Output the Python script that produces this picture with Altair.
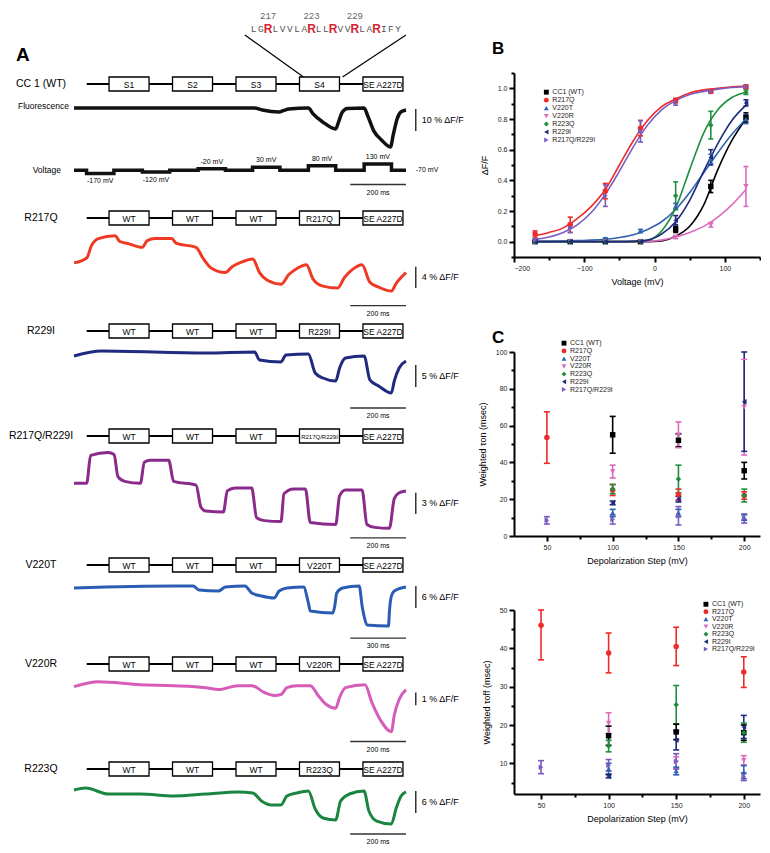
import altair as alt
import pandas as pd

FONT = "Liberation Sans"

# ======================= PANEL A DATA =======================
seq_letters = list("LGRLVVLARLLRVVRLARIFY")
seq_first_residue = 215
seq_numbered = [217, 223, 229]

wt_segments = ["S1", "S2", "S3", "S4", "SE A227D"]

pulse_onset_ms = [45, 245, 445, 640, 840, 1040]
pulse_len_ms = 98
pulse_mV = [-170, -120, -20, 30, 80, 130]
holding_mV = -70
sweep_end_ms = 1190

# fluorescence traces: time (ms), dF/F (%)
wt_t = [0, 647, 675, 735, 752, 770, 840, 857, 892, 938, 948, 962, 980, 1040, 1053, 1075, 1102, 1134, 1145, 1158, 1172, 1190]
wt_v = [0, 0, -0.9, -1.8, -1.1, -0.5, 0, -2.7, -6.4, -9.5, -6.4, -1.8, -0.2, 0, -3.6, -10.5, -14.5, -17.7, -11.8, -5.0, -1.8, -0.9]

r217q_t = [0, 45.5, 63, 87.5, 147, 164.5, 192.5, 245, 262.5, 290.5, 350, 367.5, 437.5, 462, 490, 542.5, 567, 602, 640.5, 665,
           693, 742, 770, 798, 833, 857.5, 892.5, 945, 969.5, 997.5, 1032.5, 1060.5, 1092, 1137.5, 1155, 1190]
r217q_v = [0, 0.91, 3.27, 4.55, 5.09, 4.0, 3.64, 2.91, 4.18, 4.55, 4.55, 3.64, 2.91, 0.91, -0.91, -1.82, -0.73, 0.18, 0.73, -1.82,
           -3.27, -4.0, -2.18, -1.09, -0.36, -3.09, -4.36, -4.73, -2.73, -1.27, -0.36, -3.64, -4.55, -5.27, -3.82, -1.82]

r229i_t = [0, 98, 472.5, 647.5, 665, 742, 759.5, 840, 864.5, 892.5, 938, 952, 973, 1040, 1060.5, 1092, 1137.5, 1148, 1165.5, 1190]
r229i_v = [0, 1.14, 0.68, 0.91, -0.91, -1.36, 0.23, 0.45, -3.86, -5.0, -5.68, -2.73, -0.45, 0, -5.45, -6.82, -8.41, -5.68, -2.73, -1.14]

dbl_t = [0, 45.5, 59.5, 122.5, 143.5, 157.5, 182, 238, 252, 273, 339.5, 357, 437.5, 455, 472.5, 535.5, 549.5, 577.5, 637, 654.5,
         682.5, 742, 752.5, 787.5, 829.5, 847, 938, 952, 973, 1032.5, 1050, 1078, 1130.5, 1148, 1165.5, 1190]
dbl_v = [0, 0, 3.96, 4.37, 4.09, 0.95, 0.27, 0, 3.0, 3.27, 3.27, 0.27, -0.27, -3.41, -3.96, -4.09, -1.09, -0.68, -0.68, -4.91,
         -5.32, -5.46, -1.5, -0.82, -0.82, -5.59, -5.87, -1.77, -0.95, -0.95, -5.87, -6.28, -6.41, -2.18, -1.36, -1.09]

v220t_t = [0, 536.5, 641.7, 673.3, 778.5, 815.3, 920.5, 957.3, 1009.9, 1078.3, 1104.6, 1146.7, 1236.1, 1262.4, 1272.9, 1393.9,
           1404.4, 1414.9, 1446.5, 1535.9, 1551.7, 1562.2, 1578, 1693.7, 1699, 1707, 1725.3, 1788]
v220t_v = [-0.27, 0.27, 0.27, -0.82, -1.09, 0, 0.27, -1.63, -2.45, -2.99, -1.09, -0.27, 0, -4.36, -6.54, -7.08,
           -5.18, -1.63, -0.27, 0.27, -5.18, -7.9, -10.35, -10.63, -6.5, -3.0, -1.09, 0]

v220r_t = [0, 87.5, 238, 357, 472.5, 518, 588, 637, 682.5, 717.5, 742, 763, 798, 847, 875, 903, 938, 952, 973, 1043,
           1067.5, 1102.5, 1137.5, 1148, 1165.5, 1190]
v220r_v = [0, 0.38, 0.15, 0.08, -0.08, -0.23, 0.08, 0.08, -0.46, -0.69, -0.62, -0.08, 0.08, 0.08, -0.69, -1.38, -1.69, -0.85, -0.08, 0.15,
           -1.23, -2.77, -3.54, -2.23, -1.0, -0.23]

r223q_t = [0, 42, 122.5, 238, 357, 472.5, 588, 640.5, 672, 707, 742, 763, 798, 840, 864.5, 892.5, 938, 955.5, 987, 1039.5,
           1057, 1085, 1137.5, 1155, 1172.5, 1190]
r223q_v = [0, 0.54, -1.09, -1.09, -1.63, -1.09, -0.54, -0.82, -3.0, -4.09, -4.09, -1.63, -0.82, -0.27, -5.18, -7.63, -8.17, -3.0, -1.09, -0.27,
           -5.72, -8.45, -9.26, -4.9, -1.63, -0.54]

# ======================= PANEL B DATA =======================
constructs = ["CC1 (WT)", "R217Q", "V220T", "V220R", "R223Q", "R229I", "R217Q/R229I"]
colors = ["#000000", "#ee2a2a", "#2f62b0", "#dc6bbb", "#1f8f3e", "#1e2b7e", "#7a5cc0"]
shapes = ["square", "circle", "triangle-up", "triangle-down", "diamond", "triangle-left", "triangle-right"]

b_voltage = [-170, -120, -70, -20, 30, 80, 130]
b_mean = {
    "CC1 (WT)":    [0.0, 0.0, 0.0, 0.0, 0.08, 0.36, 0.81],
    "R217Q":       [0.05, 0.11, 0.33, 0.74, 0.92, 0.98, 1.01],
    "V220T":       [0.0, 0.005, 0.02, 0.07, 0.23, 0.54, 0.80],
    "V220R":       [0.0, 0.0, 0.0, 0.0, 0.03, 0.11, 0.36],
    "R223Q":       [0.0, 0.0, 0.0, 0.0, 0.30, 0.76, 0.975],
    "R229I":       [0.0, 0.0, 0.0, 0.0, 0.14, 0.55, 0.905],
    "R217Q/R229I": [0.01, 0.09, 0.30, 0.72, 0.91, 0.98, 1.01],
}
b_sem = {
    "CC1 (WT)":    [0.005, 0.005, 0.005, 0.005, 0.02, 0.04, 0.03],
    "R217Q":       [0.02, 0.05, 0.05, 0.05, 0.015, 0.01, 0.01],
    "V220T":       [0.004, 0.005, 0.005, 0.01, 0.02, 0.03, 0.03],
    "V220R":       [0.003, 0.003, 0.003, 0.005, 0.01, 0.015, 0.13],
    "R223Q":       [0.003, 0.003, 0.003, 0.005, 0.09, 0.09, 0.015],
    "R229I":       [0.003, 0.003, 0.003, 0.005, 0.03, 0.05, 0.02],
    "R217Q/R229I": [0.01, 0.03, 0.07, 0.07, 0.02, 0.01, 0.01],
}
fit_voltage = [-170, -150, -130, -110, -90, -70, -50, -30, -10, 10, 30, 50, 70, 90, 110, 130]
fit_curve = {
    "CC1 (WT)":    [0, 0, 0, 0, 0, 0, 0, 0, 0, 0.005, 0.035, 0.10, 0.24, 0.47, 0.66, 0.80],
    "R217Q":       [0.04, 0.06, 0.09, 0.15, 0.23, 0.34, 0.50, 0.66, 0.79, 0.88, 0.93, 0.97, 0.99, 1.0, 1.01, 1.015],
    "V220T":       [0.0, 0.002, 0.004, 0.007, 0.01, 0.016, 0.027, 0.045, 0.08, 0.13, 0.21, 0.32, 0.45, 0.58, 0.70, 0.80],
    "V220R":       [0, 0, 0, 0, 0, 0, 0, 0, 0.002, 0.01, 0.03, 0.06, 0.10, 0.16, 0.24, 0.34],
    "R223Q":       [0, 0, 0, 0, 0, 0, 0, 0.002, 0.01, 0.07, 0.22, 0.47, 0.71, 0.86, 0.94, 0.975],
    "R229I":       [0, 0, 0, 0, 0, 0, 0, 0.002, 0.01, 0.05, 0.13, 0.27, 0.46, 0.64, 0.79, 0.89],
    "R217Q/R229I": [0.015, 0.03, 0.06, 0.11, 0.19, 0.31, 0.46, 0.62, 0.76, 0.86, 0.92, 0.96, 0.98, 0.995, 1.005, 1.01],
}

# ======================= PANEL C DATA =======================
c_steps = [50, 100, 150, 200]
ton_mean = {
    "CC1 (WT)":    [None, 55, 52, 35.5],
    "R217Q":       [53.5, 25, 22.5, 22],
    "V220T":       [None, 12.5, 12.5, 10],
    "V220R":       [None, 35, 55, 70],
    "R223Q":       [None, 25.5, 31, 22],
    "R229I":       [None, 18, 20, 73],
    "R217Q/R229I": [8.5, 9, 11, 9.5],
}
ton_sem = {
    "CC1 (WT)":    [None, 10, 3.5, 4.5],
    "R217Q":       [14, 3, 3, 2],
    "V220T":       [None, 2, 2, 1.5],
    "V220R":       [None, 3.5, 7, 26],
    "R223Q":       [None, 2.5, 7.5, 3.5],
    "R229I":       [None, 1, 1.5, 27],
    "R217Q/R229I": [2, 2.5, 5, 2.5],
}
toff_mean = {
    "CC1 (WT)":    [None, 17.2, 18.2, 18],
    "R217Q":       [46, 38.8, 40.5, 33.8],
    "V220T":       [None, 8.5, 8, 7.7],
    "V220R":       [None, 20.5, 10.2, 10.8],
    "R223Q":       [None, 14.5, 25.3, 18],
    "R229I":       [None, 6.7, 16, 19.5],
    "R217Q/R229I": [9, 9.5, 10.5, 6.5],
}
toff_sem = {
    "CC1 (WT)":    [None, 2.5, 2, 2],
    "R217Q":       [9, 5.2, 5, 4],
    "V220T":       [None, 1.5, 1, 1.7],
    "V220R":       [None, 2.7, 1.5, 1.2],
    "R223Q":       [None, 1.5, 5, 2.5],
    "R229I":       [None, 0.5, 2.5, 3],
    "R217Q/R229I": [1.7, 1.5, 2, 1],
}

# ======================= PANEL A BUILD =======================
W_A = 332
F = W_A / 340.0  # horizontal factor for decorative connector positions


def header_chart():
    df = pd.DataFrame({"res": [seq_first_residue + i for i in range(len(seq_letters))], "aa": seq_letters})
    xs = alt.X("res:Q", scale=alt.Scale(domain=[190.14, 236.08], nice=False, zero=False), axis=None)
    plain = alt.Chart(df).transform_filter("datum.aa != 'R'").mark_text(
        font="Liberation Mono", fontSize=9.5, color="#555555", baseline="alphabetic"
    ).encode(x=xs, y=alt.value(21), text="aa:N")
    arg = alt.Chart(df).transform_filter("datum.aa == 'R'").mark_text(
        font="Liberation Sans", fontSize=12, fontWeight="bold", color="#d9232e", baseline="alphabetic"
    ).encode(x=xs, y=alt.value(22), text="aa:N")
    nums = alt.Chart(pd.DataFrame({"res": seq_numbered})).mark_text(
        font="Liberation Mono", fontSize=9, color="#666666"
    ).encode(x=xs, y=alt.value(5), text="res:Q")
    l1 = alt.Chart(pd.DataFrame({"k": [0]})).mark_rule(strokeWidth=1.2, color="black").encode(
        x=alt.value(175 * F), y=alt.value(24), x2=alt.value(235 * F), y2=alt.value(66))
    l2 = alt.Chart(pd.DataFrame({"k": [0]})).mark_rule(strokeWidth=1.2, color="black").encode(
        x=alt.value(340 * F), y=alt.value(24), x2=alt.value(275 * F), y2=alt.value(66))
    lab = alt.Chart(pd.DataFrame({"t": ["A"]})).mark_text(
        font=FONT, fontSize=19, fontWeight="bold", align="left").encode(
        x=alt.value(-58), y=alt.value(44), text="t:N")
    return alt.layer(l1, l2, plain, arg, nums, lab).properties(width=W_A, height=66)


def construct_chart(row_label, segs):
    df = pd.DataFrame({"pos": [1, 2, 3, 4, 5], "seg": segs})
    df["fs"] = [6 if len(s) > 9 else 8.5 for s in segs]
    xs = alt.X("pos:O", scale=alt.Scale(type="band", paddingInner=0.37, paddingOuter=0.3, align=0.92), axis=None)
    line = alt.Chart(df.head(1)).mark_rule(strokeWidth=2, color="black").encode(
        x=alt.value(13 * F), x2=alt.value(335 * F), y=alt.value(7))
    boxes = alt.Chart(df).mark_rect(fill="white", stroke="black", strokeWidth=1.3).encode(
        x=xs, y=alt.value(0), y2=alt.value(14))
    texts = alt.Chart(df).mark_text(font=FONT, baseline="middle").encode(
        x=xs, y=alt.value(7.5), text="seg:N", size=alt.Size("fs:Q", scale=None, legend=None))
    rl = alt.Chart(pd.DataFrame({"n": [row_label]})).mark_text(font=FONT, fontSize=10.5, baseline="middle").encode(
        x=alt.value(-33), y=alt.value(7), text="n:N")
    return alt.layer(line, boxes, texts, rl).properties(width=W_A, height=14)


def trace_chart(t, v, color, t_dom, v_dom, height, sb_pct, sb_top, sb_x, tb_y=None, tb_ms=200, extra=None, sw=3):
    xsc = alt.Scale(domain=t_dom, nice=False, zero=False)
    ysc = alt.Scale(domain=v_dom, nice=False, zero=False)
    df = pd.DataFrame({"t": t, "v": v})
    layers = [alt.Chart(df).mark_line(color=color, strokeWidth=sw, interpolate="monotone").encode(
        x=alt.X("t:Q", scale=xsc, axis=None), y=alt.Y("v:Q", scale=ysc, axis=None))]
    sb = pd.DataFrame({"t": [sb_x], "v": [sb_top - sb_pct], "v2": [sb_top], "vm": [sb_top - sb_pct / 2],
                       "lab": [f"{sb_pct:g} % \u0394F/F"]})
    layers.append(alt.Chart(sb).mark_rule(strokeWidth=1.5, color="#333333").encode(
        x=alt.X("t:Q", scale=xsc, axis=None), y=alt.Y("v:Q", scale=ysc, axis=None), y2="v2:Q"))
    layers.append(alt.Chart(sb).mark_text(font=FONT, fontSize=9, align="left", dx=6, baseline="middle").encode(
        x=alt.X("t:Q", scale=xsc, axis=None), y=alt.Y("vm:Q", scale=ysc, axis=None), text="lab:N"))
    if tb_y is not None:
        end = t_dom[1]
        tb = pd.DataFrame({"t": [end - tb_ms], "t2": [end], "tm": [end - tb_ms / 2], "v": [tb_y],
                           "lab": [f"{tb_ms} ms"]})
        layers.append(alt.Chart(tb).mark_rule(strokeWidth=1.3, color="#333333").encode(
            x=alt.X("t:Q", scale=xsc, axis=None), x2="t2:Q", y=alt.Y("v:Q", scale=ysc, axis=None)))
        layers.append(alt.Chart(tb).mark_text(font=FONT, fontSize=7, dy=8).encode(
            x=alt.X("tm:Q", scale=xsc, axis=None), y=alt.Y("v:Q", scale=ysc, axis=None), text="lab:N"))
    if extra is not None:
        layers += extra(xsc, ysc)
    return alt.layer(*layers).properties(width=W_A, height=height)


def wt_fluor_extra(xsc, ysc):
    return [alt.Chart(pd.DataFrame({"lab": ["Fluorescence"], "v": [0.9]})).mark_text(
        font=FONT, fontSize=8.5, align="right", baseline="middle").encode(
        x=alt.value(-5), y=alt.Y("v:Q", scale=ysc, axis=None), text="lab:N")]


def voltage_chart():
    tt, vv = [0], [holding_mV]
    for on, mv in zip(pulse_onset_ms, pulse_mV):
        tt += [on, on + pulse_len_ms]
        vv += [mv, holding_mV]
    tt.append(sweep_end_ms)
    vv.append(holding_mV)
    xsc = alt.Scale(domain=[0, sweep_end_ms], nice=False, zero=False)
    ysc = alt.Scale(domain=[-1373, 294], nice=False, zero=False)
    X = lambda f: alt.X(f, scale=xsc, axis=None)
    Y = lambda f: alt.Y(f, scale=ysc, axis=None)
    step = alt.Chart(pd.DataFrame({"t": tt, "v": vv})).mark_line(
        color="#111111", strokeWidth=3.5, interpolate="step-after").encode(x=X("t:Q"), y=Y("v:Q"))
    labs = pd.DataFrame({"t": [o + pulse_len_ms / 2 for o in pulse_onset_ms], "v": pulse_mV,
                         "lab": [f"{m} mV" for m in pulse_mV]})
    below = alt.Chart(labs).transform_filter("datum.v < -70").mark_text(font=FONT, fontSize=7, dy=8).encode(
        x=X("t:Q"), y=Y("v:Q"), text="lab:N")
    above = alt.Chart(labs).transform_filter("datum.v > -70").mark_text(font=FONT, fontSize=7, dy=-7).encode(
        x=X("t:Q"), y=Y("v:Q"), text="lab:N")
    hold = alt.Chart(pd.DataFrame({"t": [1225], "v": [holding_mV], "lab": [f"{holding_mV} mV"]})).mark_text(
        font=FONT, fontSize=7, align="left", baseline="middle").encode(x=X("t:Q"), y=Y("v:Q"), text="lab:N")
    vl = alt.Chart(pd.DataFrame({"v": [holding_mV], "lab": ["Voltage"]})).mark_text(
        font=FONT, fontSize=8.5, align="right", baseline="middle").encode(x=alt.value(-13), y=Y("v:Q"), text="lab:N")
    tb = pd.DataFrame({"t": [sweep_end_ms - 200], "t2": [sweep_end_ms], "tm": [sweep_end_ms - 100], "v": [-524],
                       "lab": ["200 ms"]})
    bar = alt.Chart(tb).mark_rule(strokeWidth=1.3, color="#333333").encode(x=X("t:Q"), x2="t2:Q", y=Y("v:Q"))
    barl = alt.Chart(tb).mark_text(font=FONT, fontSize=7, dy=8).encode(x=X("tm:Q"), y=Y("v:Q"), text="lab:N")
    return alt.layer(step, below, above, hold, vl, bar, barl).properties(width=W_A, height=52)


def mut_segs(m):
    return ["WT", "WT", "WT", m, "SE A227D"]


STD = [0, sweep_end_ms]
left_charts = [
    header_chart(),
    construct_chart("CC 1 (WT)", wt_segments),
    trace_chart(wt_t, wt_v, "#111111", STD, [-23.18, 7.73], 68, 10, -0.45, 1225, extra=wt_fluor_extra, sw=3.5),
    voltage_chart(),
    construct_chart("R217Q", mut_segs("R217Q")),
    trace_chart(r217q_t, r217q_v, "#ee3a24", STD, [-11.45, 7.09], 99, 4, -0.73, 1225, tb_y=-8.0),
    construct_chart("R229I", mut_segs("R229I")),
    trace_chart(r229i_t, r229i_v, "#1f2a80", STD, [-16.59, 4.09], 91, 5, -2.05, 1225, tb_y=-11.82),
    construct_chart("R217Q/R229I", mut_segs("R217Q/R229I")),
    trace_chart(dbl_t, dbl_v, "#8a2a8a", STD, [-10.64, 5.73], 115, 3, -1.36, 1225, tb_y=-7.78),
    construct_chart("V220T", mut_segs("V220T")),
    trace_chart(v220t_t, v220t_v, "#2b5cb4", [0, 1788], [-19.07, 4.09], 85, 6, 0.27, 1841, tb_y=-13.9, tb_ms=300),
    construct_chart("V220R", mut_segs("V220R")),
    trace_chart(v220r_t, v220r_v, "#d65cb8", STD, [-5.92, 1.23], 91, 1, -0.46, 1225, tb_y=-4.31),
    construct_chart("R223Q", mut_segs("R223Q")),
    trace_chart(r223q_t, r223q_v, "#1a8540", STD, [-14.71, 3.81], 68, 6, -0.27, 1225, tb_y=-11.99),
]
left = alt.vconcat(*left_charts, spacing=0, bounds="flush")

# ======================= PANELS B & C BUILD =======================
W_R, H_R = 246, 184


def make_axis(values, test, fmt, title, title_pad=4):
    return alt.Axis(
        values=values,
        labelExpr=f"({test}) ? format(datum.value, '{fmt}') : ''",
        tickSize={"condition": {"test": test, "value": 5}, "value": 3},
        domainWidth=2, tickWidth=2, domainColor="black", tickColor="black",
        labelFontSize=7, labelFont=FONT, labelColor="#222222", labelPadding=2,
        title=title, titleFont=FONT, titleFontSize=9, titleFontWeight="normal", titlePadding=title_pad,
        grid=False,
    )


COLOR = alt.Color("construct:N", scale=alt.Scale(domain=constructs, range=colors), legend=None)
SHAPE = alt.Shape("construct:N", scale=alt.Scale(domain=constructs, range=shapes), legend=None)


def points_layers(df, xsc, ysc, xaxis, yaxis, cap=2.5):
    X = alt.X("x:Q", scale=xsc, axis=xaxis)
    rule = alt.Chart(df).mark_rule(strokeWidth=1.6).encode(
        x=X, y=alt.Y("lo:Q", scale=ysc, axis=yaxis), y2="hi:Q", color=COLOR)
    tlo = alt.Chart(df).mark_rule(strokeWidth=1.6, xOffset=-cap, x2Offset=cap).encode(
        x=X, x2="x:Q", y=alt.Y("lo:Q", scale=ysc, axis=yaxis), color=COLOR)
    thi = alt.Chart(df).mark_rule(strokeWidth=1.6, xOffset=-cap, x2Offset=cap).encode(
        x=X, x2="x:Q", y=alt.Y("hi:Q", scale=ysc, axis=yaxis), color=COLOR)
    pts = alt.Chart(df).mark_point(filled=True, size=30, opacity=1).encode(
        x=X, y=alt.Y("m:Q", scale=ysc, axis=yaxis), color=COLOR, shape=SHAPE)
    return [rule, tlo, thi, pts]


def key_layers(x_at, y_top, y_step, xsc, ysc, xaxis, yaxis):
    """Series key drawn inside the plot, one row per construct."""
    df = pd.DataFrame({"construct": constructs, "kx": [x_at] * len(constructs),
                       "ky": [y_top - i * y_step for i in range(len(constructs))]})
    X = alt.X("kx:Q", scale=xsc, axis=xaxis)
    Y = alt.Y("ky:Q", scale=ysc, axis=yaxis)
    sym = alt.Chart(df).mark_point(filled=True, size=24, opacity=1).encode(x=X, y=Y, color=COLOR, shape=SHAPE)
    lab = alt.Chart(df).mark_text(font=FONT, fontSize=7, align="left", dx=6, baseline="middle",
                                  color="#222222").encode(x=X, y=Y, text="construct:N")
    return [sym, lab]


def panel_label(ch, dx, dy):
    return alt.Chart(pd.DataFrame({"t": [ch]})).mark_text(
        font=FONT, fontSize=17, fontWeight="bold", align="left").encode(
        x=alt.value(dx), y=alt.value(dy), text="t:N")


# ---- B
rows = []
for c in constructs:
    for V, m, s in zip(b_voltage, b_mean[c], b_sem[c]):
        rows.append({"construct": c, "x": V, "m": m, "lo": m - s, "hi": m + s})
dfB = pd.DataFrame(rows)
frows = []
for c in constructs:
    for V, f in zip(fit_voltage, fit_curve[c]):
        frows.append({"construct": c, "x": V, "m": f})
dfF = pd.DataFrame(frows)

bx_sc = alt.Scale(domain=[-200, 150], nice=False, zero=False)
by_sc = alt.Scale(domain=[-0.1, 1.1], nice=False, zero=False)
bx_ax = make_axis(list(range(-200, 151, 50)), "datum.value % 100 == 0", "d", "Voltage (mV)", 6)
by_ax = make_axis([round(-0.1 + 0.1 * i, 1) for i in range(13)],
                  "datum.value > -0.05 && datum.value < 1.05 && abs(round(datum.value*10)) % 2 == 0",
                  ".1f", "\u0394F/F", 8)
curves = alt.Chart(dfF).mark_line(strokeWidth=1.6, interpolate="monotone").encode(
    x=alt.X("x:Q", scale=bx_sc, axis=bx_ax), y=alt.Y("m:Q", scale=by_sc, axis=by_ax),
    color=COLOR, detail="construct:N")
B = alt.layer(curves, *points_layers(dfB, bx_sc, by_sc, bx_ax, by_ax),
              *key_layers(-154, 0.975, 0.052, bx_sc, by_sc, bx_ax, by_ax),
              panel_label("B", -22, -24)).properties(width=W_R, height=H_R)


# ---- C
def c_df(mean, sem, ymax):
    r = []
    for c in constructs:
        for s, m, e in zip(c_steps, mean[c], sem[c]):
            if m is None:
                continue
            r.append({"construct": c, "x": s, "m": m, "lo": m - e, "hi": min(m + e, ymax)})
    return pd.DataFrame(r)


cx_ax = make_axis(list(range(50, 201, 25)), "datum.value % 50 == 0", "d", "Depolarization Step (mV)", 6)
c1x_sc = alt.Scale(domain=[25, 212], nice=False, zero=False)
c1y_sc = alt.Scale(domain=[0, 100], nice=False, zero=False)
c1y_ax = make_axis(list(range(0, 101, 10)), "datum.value % 20 == 0", "d", "Weighted \u03c4on (msec)", 8)
C1 = alt.layer(*points_layers(c_df(ton_mean, ton_sem, 100), c1x_sc, c1y_sc, cx_ax, c1y_ax, cap=3),
               *key_layers(63, 104.8, 4.2, c1x_sc, c1y_sc, cx_ax, c1y_ax),
               panel_label("C", -22, -14)).properties(width=W_R, height=H_R)

c2x_sc = alt.Scale(domain=[30, 212], nice=False, zero=False)
c2y_sc = alt.Scale(domain=[2, 50], nice=False, zero=False)
c2y_ax = make_axis(list(range(5, 51, 5)), "datum.value % 10 == 0", "d", "Weighted \u03c4off (msec)", 8)
C2 = alt.layer(*points_layers(c_df(toff_mean, toff_sem, 50), c2x_sc, c2y_sc, cx_ax, c2y_ax, cap=3),
               *key_layers(172, 51.5, 1.95, c2x_sc, c2y_sc, cx_ax, c2y_ax)).properties(width=W_R, height=H_R)


def spacer(h):
    return alt.Chart(pd.DataFrame({"k": [0]})).mark_point(opacity=0).encode(
        x=alt.value(0), y=alt.value(0)).properties(width=W_R, height=h)


right = alt.vconcat(spacer(62), B, spacer(95), C1, spacer(74), C2, spacing=0, bounds="flush")

chart = alt.hconcat(left, right, spacing=13).properties(padding=0).configure(
    font=FONT, view=alt.ViewConfig(stroke=None))

chart.save("out.html", embed_options={"renderer": "svg", "actions": False})
